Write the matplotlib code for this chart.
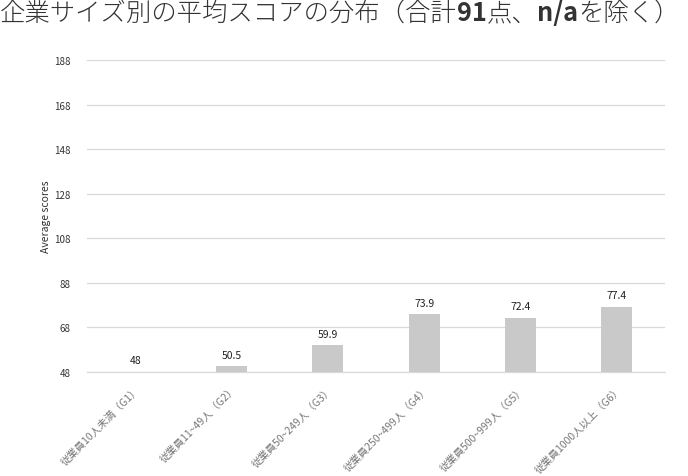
import matplotlib.pyplot as plt

plt.rcParams['font.family'] = ['Noto Sans CJK JP', 'DejaVu Sans']

categories = ['従業員10人未満（G1）', '従業員11~49人（G2）', '従業員50~249人（G3）',
              '従業員250~499人（G4）', '従業員500~999人（G5）', '従業員1000人以上（G6）']
scores = [48, 50.5, 59.9, 73.9, 72.4, 77.4]
value_labels = ['48', '50.5', '59.9', '73.9', '72.4', '77.4']
yticks = [48, 68, 88, 108, 128, 148, 168, 188]
title_parts = [('企業サイズ別の平均スコアの分布（合計', 'light'), ('91', 'bold'),
               ('点、', 'light'), ('n/a', 'bold'), ('を除く）', 'light')]

fig = plt.figure(figsize=(6.88, 4.77), dpi=100)
ax = fig.add_axes([0.1265, 0.218, 0.84, 0.654])

x = range(len(categories))
ax.bar(x, [s - 48 for s in scores], bottom=48, width=0.32, color='#c9c9c9', zorder=3)

for i, (s, lab) in enumerate(zip(scores, value_labels)):
    ax.text(i, s + 3, lab, ha='center', va='bottom', fontsize=7.5, color='#222222')

ax.set_ylim(48, 188)
ax.set_xlim(-0.5, len(categories) - 0.5)
ax.set_yticks(yticks)
ax.set_yticklabels([str(t) for t in yticks], fontsize=7, color='#333333')
ax.yaxis.grid(True, color='#d9d9d9', linewidth=0.9, zorder=0)
ax.tick_params(axis='y', length=0, pad=12)
ax.tick_params(axis='x', length=0, pad=8)

ax.set_xticks(list(x))
ax.set_xticklabels(categories, rotation=45, ha='right', rotation_mode='anchor',
                   fontsize=7.5, color='#777777')

for sp in ['top', 'right', 'left']:
    ax.spines[sp].set_visible(False)
ax.spines['bottom'].set_color('#d9d9d9')
ax.spines['bottom'].set_linewidth(0.9)

ax.set_ylabel('Average scores', fontsize=7.5, color='#333333', labelpad=2)

# title with bold numbers
prev = fig.text(0.0, 0.955, title_parts[0][0], fontsize=18.3, fontweight=title_parts[0][1],
                ha='left', va='baseline', color='#333333')
for txt, w in title_parts[1:]:
    prev = ax.annotate(txt, xy=(1, 0), xycoords=prev, fontsize=18.3, fontweight=w,
                       ha='left', va='bottom', color='#333333', annotation_clip=False)

fig.savefig('out.png', dpi=100)
